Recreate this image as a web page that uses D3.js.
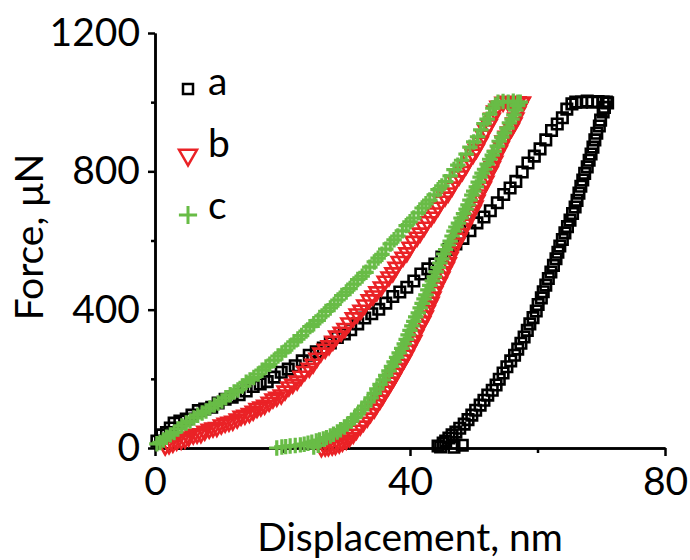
<!DOCTYPE html>
<html lang="en">
<head>
    <meta charset="UTF-8">
    <title>Force vs displacement</title>
    <style>
        body {
            margin: 0;
            background-color: #ffffff;
        }
        svg {
            display: block;
        }
        .axis path,
        .axis line {
            fill: none;
            stroke: #000;
            stroke-width: 2.5px;
        }
        .axis text {
            font-family: Lato, sans-serif;
            font-size: 39px;
            fill: #000;
        }
        .label, .legend text {
            font-family: Lato, sans-serif;
            font-size: 39px;
            fill: #000;
        }
    </style>
</head>
<body>
<script src="https://d3js.org/d3.v7.min.js"></script>
<script>
    // displacement (nm), force (uN) pairs
    var aLoad = [[0.3,20],[1.1,38],[2.4,58],[3.9,78],[5.8,95],[7.8,113],[9.9,130],[12.1,147],[14.3,165],[16.5,185],
        [18.7,205],[20.9,228],[23.1,252],[25.3,278],[27.5,304],[29.7,330],[31.8,359],[34.0,388],[36.2,419],[38.4,451],
        [40.6,483],[42.8,518],[45.0,552],[47.2,590],[49.4,628],[51.6,668],[53.7,709],[55.7,752],[57.6,798],[59.5,844],
        [61.3,891],[63.1,937],[64.6,980],[66.0,1000],
        [1.8,45],[3.0,72],[4.9,84],[6.8,108],[8.9,118],[11.0,141],[13.2,154],[15.4,178],[17.6,192],[19.8,219],
        [22.0,238],[24.2,268],[26.4,289],[28.6,320],[30.7,342],[32.9,376],[35.1,401],[37.3,438],[39.5,465],[41.7,503],
        [43.9,532],[46.1,574],[48.3,606],[50.5,651],[52.6,686],[54.7,733],[56.6,771],[58.5,824],[60.4,865],[62.2,918],
        [63.9,955],[65.4,995]];
    var aHold = [[66.9,1000],[67.8,1003],[68.6,1000],[69.5,1002],[70.3,1000],[71.0,998]];
    var aUnload = [[70.8,1000],[70.3,972],[69.7,931],[69.0,891],[68.4,850],[67.8,813],[67.1,775],[66.5,737],[65.9,697],
        [65.1,659],[64.3,622],[63.5,584],[62.9,547],[62.1,509],[61.3,471],[60.6,434],[59.8,396],[58.8,359],[57.9,321],
        [56.9,286],[55.8,252],[54.6,217],[53.5,182],[52.2,153],[51.0,124],[49.7,95],[48.5,69],[47.2,46],[46.1,29],
        [45.2,14],[44.4,6],
        [70.5,985],[69.9,948],[69.3,910],[68.7,870],[68.1,832],[67.4,794],[66.8,757],[66.2,716],[65.5,678],[64.7,640],
        [63.9,603],[63.2,566],[62.5,528],[61.7,490],[60.9,452],[60.1,415],[59.3,377],[58.4,340],[57.4,303],[56.4,268],
        [55.2,235],[54.0,199],[52.9,167],[51.6,138],[50.3,109],[49.1,82],[47.8,57],[46.6,38],[45.6,20],[44.8,3],
        [46.9,2],[48.2,8]];

    var bLoad = [[1.6,6],[2.8,14],[4.1,23],[5.3,32],[6.6,40],[7.8,49],[9.1,58],[10.4,67],[11.6,75],[12.9,84],
        [14.1,95],[15.4,107],[16.6,119],[17.9,133],[19.1,147],[20.4,165],[21.6,185],[22.9,208],[24.2,231],[25.4,260],
        [26.7,286],[27.9,309],[29.2,335],[30.4,362],[31.7,388],[32.9,414],[34.2,440],[35.5,466],[36.7,495],[37.8,523],
        [38.9,552],[40.0,581],[41.1,610],[42.2,639],[43.3,668],[44.4,697],[45.5,726],[46.6,755],[47.7,787],[48.8,818],
        [49.9,850],[51.0,885],[51.9,920],[52.9,954],[53.8,989],[54.6,1000],
        [2.2,10],[3.4,20],[4.7,26],[6.0,38],[7.2,42],[8.5,55],[9.7,60],[11.0,72],[12.2,78],[13.5,92],
        [14.8,100],[16.0,115],[17.2,124],[18.5,142],[19.8,154],[21.0,177],[22.3,194],[23.5,222],[24.8,243],[26.0,275],
        [27.3,296],[28.5,324],[29.8,346],[31.1,377],[32.3,399],[33.6,429],[34.8,452],[36.1,483],[37.3,507],[38.3,540],
        [39.5,565],[40.5,598],[41.6,622],[42.7,655],[43.8,680],[44.9,714],[46.0,738],[47.1,773],[48.2,800],[49.3,836],
        [50.4,864],[51.5,905],[52.4,935],[53.3,975]];
    var bHold = [[55.3,1003],[56.1,1000],[56.9,1002],[57.6,1000]];
    var bUnload = [[57.6,1000],[56.9,972],[56.3,940],[55.5,914],[54.6,888],[54.0,859],[53.3,830],[52.6,801],[51.9,772],
        [51.1,743],[50.5,717],[49.9,688],[49.1,662],[48.5,636],[47.7,607],[46.9,581],[46.3,552],[45.7,523],[45.0,495],
        [44.2,466],[43.6,437],[43.0,411],[42.4,382],[41.6,353],[40.9,327],[40.2,298],[39.4,269],[38.6,243],[37.8,217],
        [37.0,191],[36.1,165],[35.3,139],[34.4,113],[33.3,87],[32.2,64],[31.1,40],[30.0,23],[28.9,12],[27.8,6],[26.7,3],
        [57.2,985],[56.6,955],[55.9,925],[55.1,902],[54.3,872],[53.6,846],[52.9,814],[52.2,789],[51.5,755],[50.8,732],
        [50.2,700],[49.5,677],[48.8,648],[48.0,621],[47.3,592],[46.6,568],[46.0,536],[45.3,510],[44.6,480],[43.9,453],
        [43.3,422],[42.7,398],[42.0,366],[41.2,341],[40.6,311],[39.8,284],[39.0,255],[38.2,231],[37.4,203],[36.6,178],
        [35.7,151],[34.8,126],[33.8,100],[32.7,75],[31.6,52],[30.5,30],[29.4,17],[28.3,8],[27.2,4],[26.1,1]];

    var cLoad = [[0.3,12],[1.3,23],[2.4,38],[3.6,55],[4.9,72],[6.1,87],[7.4,101],[8.6,116],[9.9,130],[11.1,145],
        [12.4,162],[13.7,179],[14.9,197],[16.2,214],[17.4,234],[18.7,254],[19.9,275],[21.2,295],[22.4,315],[23.7,338],
        [24.9,359],[26.2,382],[27.5,405],[28.7,428],[30.0,451],[31.2,474],[32.5,497],[33.7,523],[35.0,549],[36.2,575],
        [37.5,602],[38.8,628],[40.0,654],[41.3,680],[42.5,706],[43.8,732],[45.0,758],[46.3,787],[47.5,818],[48.8,850],
        [50.0,885],[51.1,920],[52.1,951],[53.0,983],[53.8,1000],
        [0.8,16],[1.8,31],[3.0,45],[4.2,64],[5.5,78],[6.7,95],[8.0,107],[9.3,124],[10.5,136],[11.8,154],
        [13.0,168],[14.3,190],[15.5,204],[16.8,225],[18.0,242],[19.3,266],[20.5,283],[21.8,307],[23.0,325],[24.3,351],
        [25.6,369],[26.8,395],[28.1,415],[29.3,441],[30.6,461],[31.8,487],[33.1,508],[34.4,538],[35.6,560],[36.9,590],
        [38.1,613],[39.4,643],[40.6,665],[41.9,694],[43.1,717],[44.4,747],[45.6,770],[46.9,805],[48.1,832],[49.4,870],
        [50.6,900],[51.6,938],[52.5,965],[53.4,992]];
    var cHold = [[54.6,1002],[55.4,1000],[56.2,1003],[56.9,1000]];
    var cUnload = [[57.3,1000],[56.6,977],[56.0,951],[55.2,925],[54.4,899],[53.7,873],[52.9,847],[52.1,821],[51.3,795],
        [50.7,769],[50.0,743],[49.4,717],[48.8,691],[48.0,665],[47.2,639],[46.6,613],[46.0,587],[45.3,561],[44.7,535],
        [44.1,509],[43.5,483],[42.8,457],[42.2,431],[41.6,405],[40.9,379],[40.3,353],[39.7,327],[39.1,301],[38.3,275],
        [37.5,249],[36.7,223],[35.8,197],[34.8,171],[33.9,145],[32.9,121],[31.8,98],[30.8,78],[29.7,61],[28.6,46],
        [27.5,35],[26.4,26],[25.3,20],[24.0,14],[22.8,9],[21.2,6],[19.9,3],[19.1,0],
        [56.9,990],[56.3,963],[55.6,940],[54.8,911],[54.0,887],[53.2,858],[52.5,835],[51.7,806],[51.0,783],[50.4,755],
        [49.7,731],[49.1,703],[48.4,678],[47.6,650],[46.9,627],[46.3,598],[45.6,574],[45.0,547],[44.4,522],[43.8,495],
        [43.1,470],[42.5,443],[41.9,418],[41.3,391],[40.6,366],[40.0,340],[39.4,314],[38.7,288],[37.9,262],[37.1,236],
        [36.2,210],[35.3,184],[34.4,158],[33.4,133],[32.4,110],[31.3,88],[30.2,69],[29.1,53],[28.0,40],[26.9,30],
        [25.8,23],[24.6,17],[23.4,11],[22.0,7],[20.5,4],[24.9,3],[25.6,8]];

    var seriesNames = ["a", "b", "c"];
    var xTicks = [0, 40, 80], xMinor = [20, 60];
    var yTicks = [0, 400, 800, 1200], yMinor = [200, 600, 1000];

    var width = 690, height = 560;
    var margin = {top: 33, right: 25, bottom: 112, left: 155};

    var svg = d3.select("body").append("svg")
        .attr("width", width)
        .attr("height", height);

    var x = d3.scaleLinear().domain([0, 80]).range([margin.left, width - margin.right]);
    var y = d3.scaleLinear().domain([0, 1200]).range([height - margin.bottom, margin.top]);

    var series = [
        {name: "a", data: aLoad.concat(aHold, aUnload), color: "#000000",
            shape: d3.symbolSquare, size: 110, rot: 0, sw: 2.6},
        {name: "b", data: bLoad.concat(bHold, bUnload), color: "#ea2226",
            shape: d3.symbolTriangle, size: 95, rot: 180, sw: 2.6},
        {name: "c", data: cLoad.concat(cHold, cUnload), color: "#68bc46",
            shape: d3.symbolPlus, size: 80, rot: 0, sw: 3.2}
    ];

    // axes
    svg.append("g").attr("class", "axis")
        .attr("transform", "translate(0," + y(0) + ")")
        .call(d3.axisBottom(x).tickValues(xTicks).tickSize(8).tickSizeOuter(0).tickPadding(11).tickFormat(d3.format("d")));
    svg.append("g").attr("class", "axis")
        .attr("transform", "translate(0," + y(0) + ")")
        .call(d3.axisBottom(x).tickValues(xMinor).tickSize(5).tickSizeOuter(0).tickFormat(""));
    svg.append("g").attr("class", "axis")
        .attr("transform", "translate(" + x(0) + ",0)")
        .call(d3.axisLeft(y).tickValues(yTicks).tickSize(7).tickSizeOuter(0).tickPadding(8).tickFormat(d3.format("d")));
    svg.append("g").attr("class", "axis")
        .attr("transform", "translate(" + x(0) + ",0)")
        .call(d3.axisLeft(y).tickValues(yMinor).tickSize(4).tickSizeOuter(0).tickFormat(""));

    // markers
    series.forEach(function(s) {
        svg.append("g")
            .selectAll("path")
            .data(s.data)
            .enter().append("path")
            .attr("d", d3.symbol().type(s.shape).size(s.size))
            .attr("transform", function(d) {
                return "translate(" + x(d[0]) + "," + y(d[1]) + ") rotate(" + s.rot + ")";
            })
            .attr("fill", "none")
            .attr("stroke", s.color)
            .attr("stroke-width", s.sw);
    });

    // axis titles
    svg.append("text")
        .attr("class", "label")
        .attr("text-anchor", "middle")
        .attr("x", (x(0) + x(80)) / 2)
        .attr("y", 551)
        .text("Displacement, nm");

    svg.append("text")
        .attr("class", "label")
        .attr("text-anchor", "middle")
        .attr("transform", "translate(43,237) rotate(-90)")
        .text("Force, \u03bcN");

    // legend
    var legend = svg.append("g").attr("class", "legend");
    var legendY = [89, 155, 215];
    var legendSize = [100, 140, 110];
    series.forEach(function(s, i) {
        legend.append("path")
            .attr("d", d3.symbol().type(s.shape).size(legendSize[i]))
            .attr("transform", "translate(188," + legendY[i] + ") rotate(" + s.rot + ")")
            .attr("fill", "none")
            .attr("stroke", s.color)
            .attr("stroke-width", i === 2 ? 3 : 2.5);
        legend.append("text")
            .attr("x", 208)
            .attr("y", 95 + i * 62)
            .text(seriesNames[i]);
    });
</script>
</body>
</html>
